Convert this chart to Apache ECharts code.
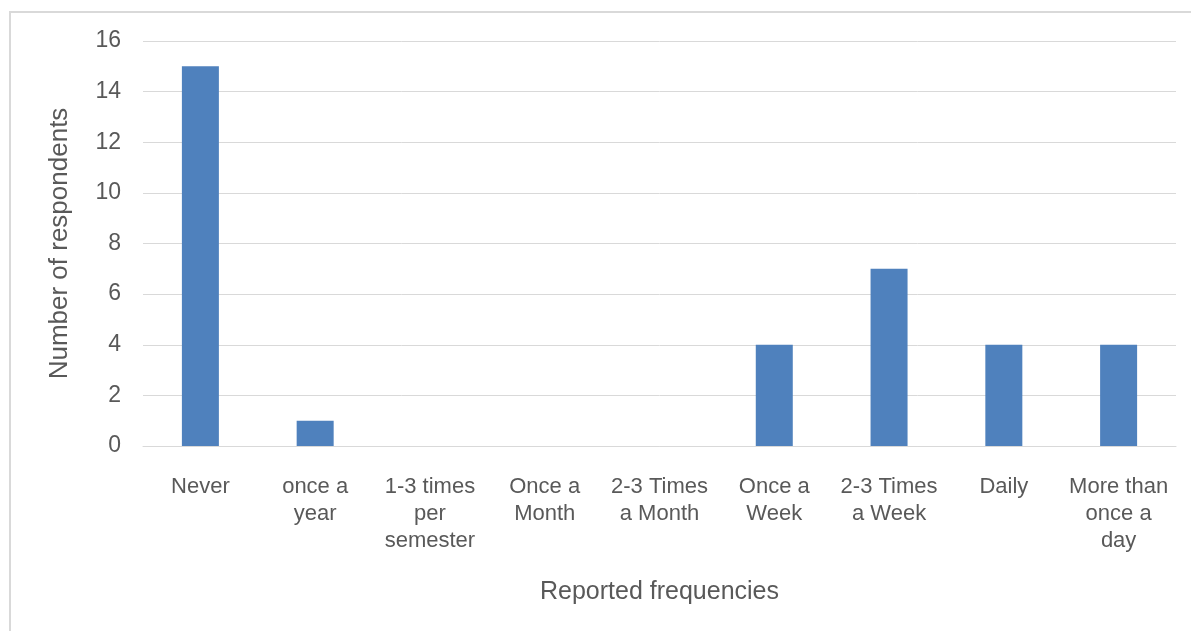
<!DOCTYPE html>
<html>
<head>
<meta charset="utf-8">
<script src="https://cdn.jsdelivr.net/npm/echarts@6/dist/echarts.min.js"></script>
<style>
html,body{margin:0;padding:0;background:#fff;}
#frame{position:absolute;left:9px;top:11px;width:1200px;height:640px;border-left:2px solid #d9d9d9;border-top:2px solid #d9d9d9;}
#chart{position:absolute;left:0;top:0;width:1191px;height:631px;}
</style>
</head>
<body>
<div id="frame"></div>
<div id="chart"></div>
<script>
const categories = ["Never", "once a\nyear", "1-3 times\nper\nsemester", "Once a\nMonth", "2-3 Times\na Month", "Once a\nWeek", "2-3 Times\na Week", "Daily", "More than\nonce a\nday"];
const respondents = [15, 1, 0, 0, 0, 4, 7, 4, 4];
const yTicks = [0, 2, 4, 6, 8, 10, 12, 14, 16];

const chart = echarts.init(document.getElementById('chart'), null, {renderer: 'canvas'});
const txt = '#595959';
const font = '"Liberation Sans", Arial, sans-serif';
chart.setOption({
  animation: false,
  textStyle: {fontFamily: font},
  grid: {left: 143, right: 15, top: 41, bottom: 185, containLabel: false},
  xAxis: {
    type: 'category',
    data: categories,
    name: 'Reported frequencies',
    nameLocation: 'middle',
    nameGap: 134,
    nameTextStyle: {color: txt, fontSize: 25, fontFamily: font},
    axisLine: {show: true, lineStyle: {color: '#d9d9d9', width: 1}},
    axisTick: {show: false},
    axisLabel: {color: txt, fontSize: 22, lineHeight: 27, margin: 27, interval: 0, fontFamily: font}
  },
  yAxis: {
    type: 'value',
    min: yTicks[0],
    max: yTicks[yTicks.length - 1],
    interval: 2,
    name: 'Number of respondents',
    nameLocation: 'middle',
    nameGap: 70,
    nameRotate: 90,
    nameTextStyle: {color: txt, fontSize: 26, fontFamily: font},
    axisLine: {show: false},
    axisTick: {show: false},
    axisLabel: {color: txt, fontSize: 23, margin: 22, fontFamily: font, padding: [4, 0, 0, 0]},
    splitLine: {lineStyle: {color: '#d9d9d9', width: 1}}
  },
  series: [{
    type: 'bar',
    data: respondents,
    barWidth: 37,
    itemStyle: {color: '#4F81BD'}
  }]
});
</script>
</body>
</html>
